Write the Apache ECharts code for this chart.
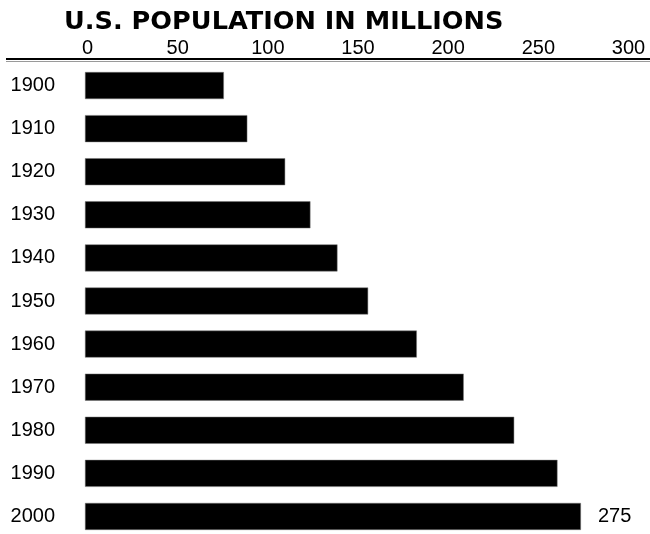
<!DOCTYPE html>
<html>
<head>
<meta charset="utf-8">
<script src="https://cdn.jsdelivr.net/npm/echarts@6/dist/echarts.min.js"></script>
<style>
html,body{margin:0;padding:0;background:#fff;}
#chart{width:650px;height:534px;}
</style>
</head>
<body>
<div id="chart"></div>
<script>
var titleText = 'U.S. POPULATION IN MILLIONS';
var years = ['1900','1910','1920','1930','1940','1950','1960','1970','1980','1990','2000'];
var population = [77, 90, 111, 125, 140, 157, 184, 210, 238, 262, 275];
var xTicks = [0, 50, 100, 150, 200, 250, 300];

var chart = echarts.init(document.getElementById('chart'), null, {renderer: 'canvas'});
var lastIdx = population.length - 1;
var barData = population.map(function (v, i) {
  return i === lastIdx ? {value: v, label: {show: true}} : {value: v};
});

chart.setOption({
  backgroundColor: '#ffffff',
  animation: false,
  title: {
    text: titleText,
    left: 59,
    top: 4,
    textStyle: {fontFamily: 'DejaVu Sans', fontWeight: 'bold', fontSize: 25.6, color: '#000'}
  },
  grid: {left: 85, width: 541, top: 64, height: 474, outerBoundsMode: 'none', containLabel: false},
  xAxis: {
    type: 'value',
    position: 'top',
    min: xTicks[0],
    max: xTicks[xTicks.length - 1],
    interval: 50,
    axisLine: {show: false},
    axisTick: {show: false},
    splitLine: {show: false},
    axisLabel: {
      margin: 6,
      padding: [0, 0, 0, 5],
      fontFamily: 'Liberation Sans',
      fontSize: 20,
      color: '#000'
    }
  },
  yAxis: {
    type: 'category',
    data: years,
    inverse: true,
    axisLine: {show: false},
    axisTick: {show: false},
    splitLine: {show: false},
    axisLabel: {
      margin: 30,
      fontFamily: 'Liberation Sans',
      fontSize: 20,
      color: '#000'
    }
  },
  graphic: [
    {type: 'line', shape: {x1: 6, y1: 59, x2: 650, y2: 59}, style: {stroke: '#000', lineWidth: 2}, silent: true},
    {type: 'line', shape: {x1: 6, y1: 61.5, x2: 650, y2: 61.5}, style: {stroke: '#9a9a9a', lineWidth: 1}, silent: true}
  ],
  series: [{
    type: 'bar',
    data: barData,
    barWidth: 27,
    itemStyle: {color: '#000', borderColor: '#777', borderWidth: 0.5},
    label: {
      show: false,
      position: 'right',
      distance: 17,
      fontFamily: 'Liberation Sans',
      fontSize: 20,
      color: '#000'
    }
  }]
});
</script>
</body>
</html>
